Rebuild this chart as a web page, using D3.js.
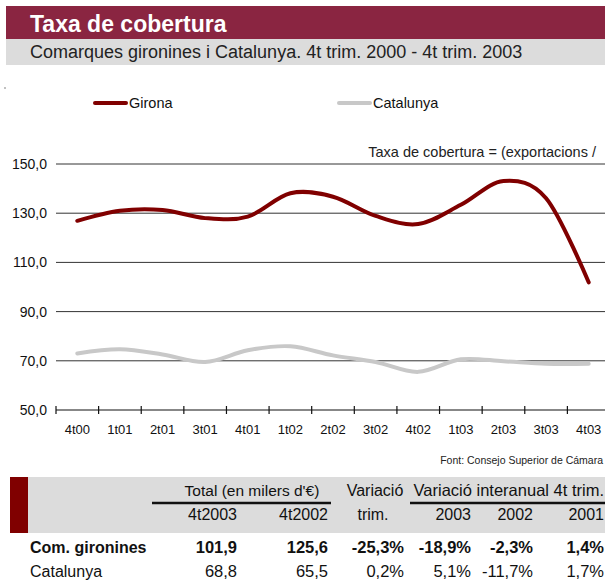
<!DOCTYPE html>
<html>
<head>
<meta charset="utf-8">
<script src="https://cdn.jsdelivr.net/npm/d3@7/dist/d3.min.js"></script>
<style>
  html, body { margin: 0; padding: 0; background: #fff; }
  svg { display: block; }
  text { font-family: "Liberation Sans", Arial, sans-serif; }
</style>
</head>
<body>
<svg id="chart" width="605" height="580"></svg>
<script>
// Quarterly coverage ratio (exports / imports), 4t 2000 - 4t 2003
const quarters = ["4t00","1t01","2t01","3t01","4t01","1t02","2t02","3t02","4t02","1t03","2t03","3t03","4t03"];
const girona   = [126.9, 131.0, 131.3, 128.0, 128.6, 138.1, 136.7, 128.9, 125.6, 133.4, 143.1, 136.1, 101.9];
const catalunya = [73.0, 74.7, 72.6, 69.5, 74.3, 75.9, 72.2, 69.5, 65.5, 70.6, 69.8, 68.8, 68.8];
const yTicks = [50, 70, 90, 110, 130, 150];

// Summary table
const tableRows = [
  { name: "Com. gironines", bold: true,  vals: ["101,9", "125,6", "-25,3%", "-18,9%", "-2,3%", "1,4%"] },
  { name: "Catalunya",      bold: false, vals: ["68,8", "65,5", "0,2%", "5,1%", "-11,7%", "1,7%"] }
];
const subHeads = ["4t2003", "4t2002", "trim.", "2003", "2002", "2001"];

const svg = d3.select("#chart");
const maroon = "#8a2541";
const red = "#800000";
const grey = "#c8c8c8";

// Title block
svg.append("rect").attr("x", 6).attr("y", 6).attr("width", 599).attr("height", 33).attr("fill", maroon);
svg.append("rect").attr("x", 6).attr("y", 39).attr("width", 599).attr("height", 26).attr("fill", "#dcdcdc");
svg.append("text").attr("x", 30).attr("y", 32).attr("fill", "#fff")
  .attr("font-size", 23).attr("font-weight", "bold").text("Taxa de cobertura");
svg.append("text").attr("x", 30).attr("y", 58).attr("fill", "#222")
  .attr("font-size", 18).text("Comarques gironines i Catalunya. 4t trim. 2000 - 4t trim. 2003");

// Small mark at the left margin
svg.append("circle").attr("cx", 5).attr("cy", 88).attr("r", 0.7).attr("fill", "#555");

// Scales
const x = d3.scaleBand().domain(quarters).range([56, 610]).padding(0);
const y = d3.scaleLinear().domain([50, 150]).range([410, 164]);
const cx = q => x(q) + x.bandwidth() / 2;

// Gridlines
svg.append("g").selectAll("line").data(yTicks.filter(t => t > 50)).join("line")
  .attr("x1", 56).attr("x2", 605)
  .attr("y1", d => y(d)).attr("y2", d => y(d))
  .attr("stroke", "#333").attr("stroke-width", 1);

// Y axis labels
svg.append("g").selectAll("text").data(yTicks).join("text")
  .attr("x", 47).attr("y", d => y(d) + 5)
  .attr("text-anchor", "end").attr("font-size", 14).attr("fill", "#111")
  .text(d => d3.format(".1f")(d).replace(".", ","));

// X axis
const xAxis = svg.append("g").attr("transform", "translate(0,410)")
  .call(d3.axisBottom(x).tickSize(0).tickPadding(15));
xAxis.select(".domain").remove();
xAxis.selectAll("text").attr("font-size", 13).attr("fill", "#111")
  .attr("font-family", "'Liberation Sans', Arial, sans-serif");
svg.append("line").attr("x1", 56).attr("x2", 605).attr("y1", 410).attr("y2", 410)
  .attr("stroke", "#111").attr("stroke-width", 1.2);
svg.append("g").selectAll("line").data(quarters).join("line")
  .attr("x1", d => x(d)).attr("x2", d => x(d))
  .attr("y1", 406).attr("y2", 414)
  .attr("stroke", "#111").attr("stroke-width", 1.2);

// Series lines
const line = d3.line()
  .x((d, i) => cx(quarters[i]))
  .y(d => y(d))
  .curve(d3.curveCardinal.tension(0));

svg.append("path").datum(catalunya).attr("d", line)
  .attr("fill", "none").attr("stroke", grey).attr("stroke-width", 4)
  .attr("stroke-linecap", "round").attr("stroke-linejoin", "round");
svg.append("path").datum(girona).attr("d", line)
  .attr("fill", "none").attr("stroke", red).attr("stroke-width", 4)
  .attr("stroke-linecap", "round").attr("stroke-linejoin", "round");

// Legend
const legend = [
  { label: "Girona", color: red, x: 95 },
  { label: "Catalunya", color: grey, x: 339 }
];
const lg = svg.append("g").selectAll("g").data(legend).join("g");
lg.append("line").attr("x1", d => d.x).attr("x2", d => d.x + 31)
  .attr("y1", 103).attr("y2", 103)
  .attr("stroke", d => d.color).attr("stroke-width", 4).attr("stroke-linecap", "round");
lg.append("text").attr("x", d => d.x + 34).attr("y", 108)
  .attr("font-size", 14.5).attr("fill", "#111").text(d => d.label);

// Formula note
svg.append("text").attr("x", 596).attr("y", 157).attr("text-anchor", "end")
  .attr("font-size", 14.5).attr("fill", "#222").text("Taxa de cobertura = (exportacions /");

// Source
svg.append("text").attr("x", 603).attr("y", 464).attr("text-anchor", "end")
  .attr("font-family", "'Liberation Sans Narrow', 'Liberation Sans', sans-serif")
  .attr("font-size", 10.5).attr("fill", "#222").text("Font: Consejo Superior de Cámara");

// Table header
svg.append("rect").attr("x", 10).attr("y", 477).attr("width", 595).attr("height", 56).attr("fill", "#dcdcdc");
svg.append("rect").attr("x", 10).attr("y", 477).attr("width", 18).attr("height", 56).attr("fill", "#800000");

const colRight = [237, 328, 404, 471, 533, 604];

svg.append("text").attr("x", 252).attr("y", 496).attr("text-anchor", "middle")
  .attr("font-size", 15.5).attr("fill", "#111").text("Total (en milers d'€)");
svg.append("text").attr("x", 375).attr("y", 496).attr("text-anchor", "middle")
  .attr("font-size", 16).attr("fill", "#111").text("Variació");
svg.append("text").attr("x", 604).attr("y", 496).attr("text-anchor", "end")
  .attr("font-size", 16.5).attr("fill", "#111").text("Variació interanual 4t trim.");
svg.append("line").attr("x1", 152).attr("x2", 331).attr("y1", 503).attr("y2", 503)
  .attr("stroke", "#111").attr("stroke-width", 2.5);
svg.append("line").attr("x1", 410).attr("x2", 605).attr("y1", 503).attr("y2", 503)
  .attr("stroke", "#111").attr("stroke-width", 2.5);

svg.append("g").selectAll("text").data(subHeads).join("text")
  .attr("x", (d, i) => i === 2 ? 373 : colRight[i])
  .attr("y", 520)
  .attr("text-anchor", (d, i) => i === 2 ? "middle" : "end")
  .attr("font-size", 16).attr("fill", "#111").text(d => d);

// Table rows
const rowY = [553, 577];
tableRows.forEach((r, ri) => {
  const g = svg.append("g").attr("font-weight", r.bold ? "bold" : "normal");
  g.append("text").attr("x", 30).attr("y", rowY[ri])
    .attr("font-size", 16).attr("fill", "#111").text(r.name);
  g.selectAll("text.v").data(r.vals).join("text").attr("class", "v")
    .attr("x", (d, i) => colRight[i]).attr("y", rowY[ri])
    .attr("text-anchor", "end").attr("font-size", 16.5).attr("fill", "#111").text(d => d);
});
</script>
</body>
</html>
